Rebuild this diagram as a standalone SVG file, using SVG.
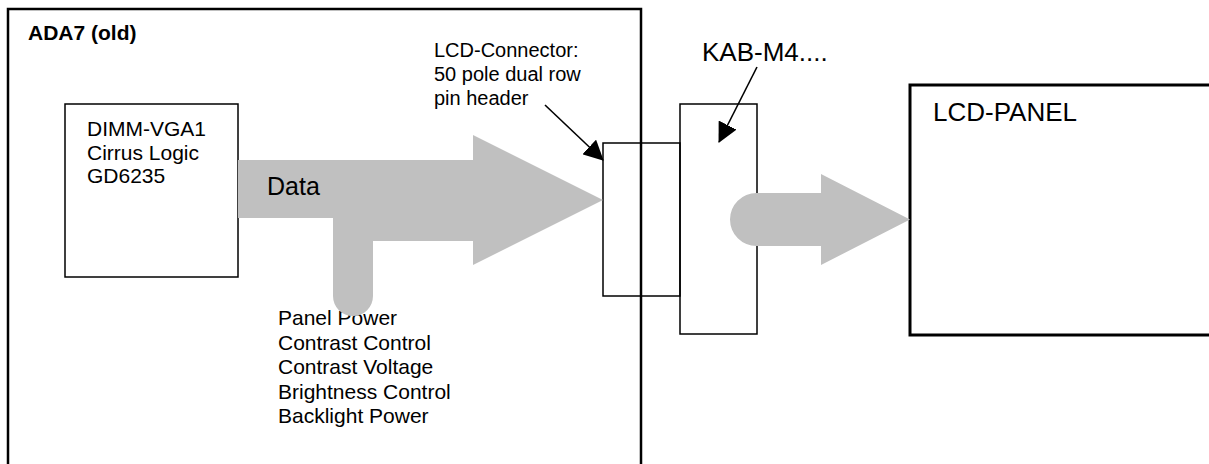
<svg xmlns="http://www.w3.org/2000/svg" width="1209" height="464" viewBox="0 0 1209 464">
<style>
text{font-family:"Liberation Sans",Arial,sans-serif;fill:#000}
.s{font-size:21px}
.m{font-size:20px}
.l{font-size:26px}
.box{fill:none;stroke:#000;stroke-width:1.5}
.gray{fill:#c0c0c0;stroke:none}
.ptr{stroke:#000;stroke-width:1.6;fill:none}
</style>
<defs>
<marker id="ah" markerUnits="userSpaceOnUse" markerWidth="20" markerHeight="20" refX="19" refY="10" orient="auto">
<path d="M0,0 L20,10 L0,20 z" fill="#000"/>
</marker>
</defs>
<rect width="1209" height="464" fill="#fff"/>
<g id="ada7">
<rect x="8" y="9" width="633" height="470" fill="none" stroke="#000" stroke-width="2.5"/>
<text x="28" y="40" style="font-size:21px;font-weight:bold">ADA7 (old)</text>
</g>
<g id="dimm">
<rect class="box" x="65" y="104" width="173" height="173"/>
<text class="s" x="87" y="136">DIMM-VGA1</text>
<text class="s" x="87" y="159.5">Cirrus Logic</text>
<text class="s" x="87" y="183">GD6235</text>
</g>
<g id="signals">
<text class="s" x="278" y="325">Panel Power</text>
<text class="s" x="278" y="349.5">Contrast Control</text>
<text class="s" x="278" y="374">Contrast Voltage</text>
<text class="s" x="278" y="398.5">Brightness Control</text>
<text class="s" x="278" y="423">Backlight Power</text>
</g>
<g id="lcdconn">
<rect class="box" x="603" y="143" width="77" height="153"/>
<text class="m" x="434" y="57">LCD-Connector:</text>
<text class="m" x="434" y="81">50 pole dual row</text>
<text class="m" x="434" y="105">pin header</text>
</g>
<g id="kab">
<rect class="box" x="680" y="104" width="77" height="230"/>
<text class="l" x="702" y="61">KAB-M4....</text>
</g>
<g id="panel">
<rect x="910" y="85" width="330" height="250" fill="none" stroke="#000" stroke-width="3"/>
<text class="l" x="933" y="121">LCD-PANEL</text>
</g>
<g id="connectors">
<path class="gray" d="M238,160 L473,160 L473,135 L603,200 L473,265 L473,241 L373,241 L373,296 A20,20 0 0 1 333,296 L333,218 L238,218 Z"/>
<text x="267" y="195" style="font-size:25px">Data</text>
<path class="gray" d="M756.5,193 L821,193 L821,174 L910,219.5 L821,265 L821,246 L756.5,246 A26.5,26.5 0 0 1 756.5,193 Z"/>
<line class="ptr" x1="545" y1="105" x2="603" y2="160" marker-end="url(#ah)"/>
<line class="ptr" x1="757" y1="67" x2="719" y2="142" marker-end="url(#ah)"/>
</g>
</svg>
